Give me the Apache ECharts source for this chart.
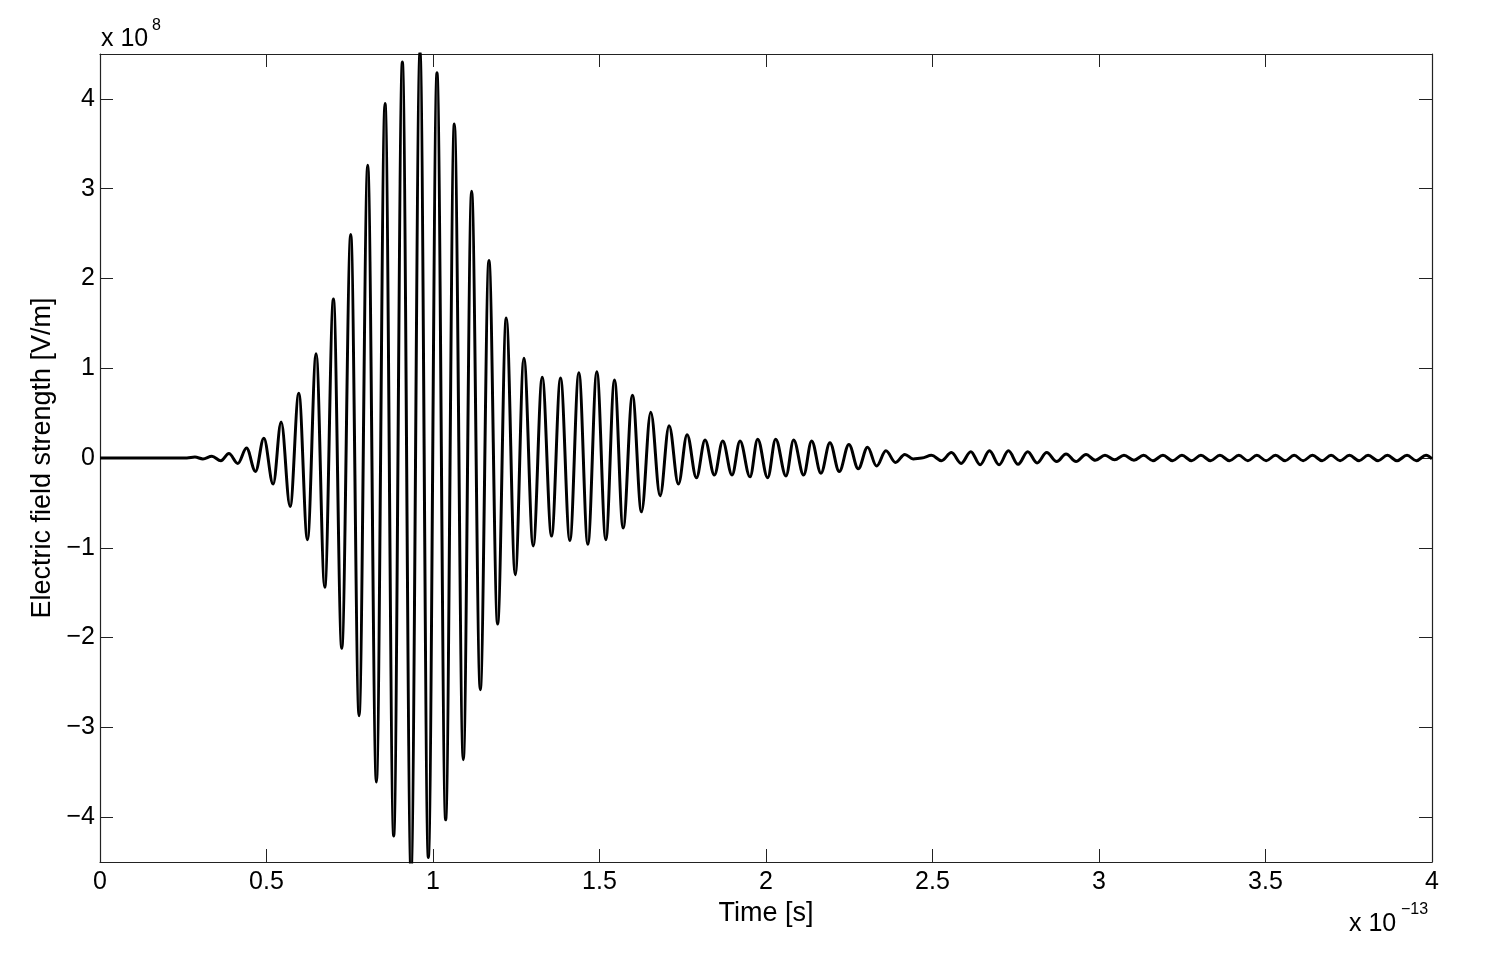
<!DOCTYPE html>
<html>
<head>
<meta charset="utf-8">
<script src="https://cdn.jsdelivr.net/npm/echarts@6/dist/echarts.min.js"></script>
<style>
  html, body { margin: 0; padding: 0; background: #fff; }
  #chart { width: 1491px; height: 963px; }
</style>
</head>
<body>
<div id="chart"></div>
<script>
// time in units of 1e-13 s (turning points of the trace)
const times = [
  0, 0.261, 0.285, 0.309, 0.336, 0.363, 0.387, 0.414, 0.440, 0.467,
  0.492, 0.520, 0.544, 0.571, 0.597, 0.623, 0.649, 0.675, 0.701, 0.726,
  0.753, 0.778, 0.804, 0.830, 0.856, 0.882, 0.908, 0.934, 0.961, 0.986,
  1.012, 1.038, 1.064, 1.091, 1.116, 1.142, 1.168, 1.194, 1.220, 1.247,
  1.273, 1.301, 1.328, 1.356, 1.383, 1.411, 1.438, 1.465, 1.492, 1.519,
  1.545, 1.571, 1.599, 1.626, 1.654, 1.682, 1.709, 1.737, 1.763, 1.791,
  1.817, 1.845, 1.870, 1.898, 1.922, 1.952, 1.975, 2.005, 2.029, 2.060,
  2.083, 2.113, 2.137, 2.165, 2.192, 2.220, 2.249, 2.277, 2.305, 2.332,
  2.360, 2.389, 2.417, 2.442, 2.468, 2.497, 2.527, 2.557, 2.586, 2.615,
  2.643, 2.671, 2.700, 2.728, 2.757, 2.786, 2.814, 2.843, 2.873, 2.901,
  2.931, 2.961, 2.989, 3.018, 3.047, 3.075, 3.105, 3.134, 3.162, 3.192,
  3.221, 3.249, 3.278, 3.306, 3.335, 3.363, 3.392, 3.420, 3.447, 3.474,
  3.502, 3.530, 3.559, 3.586, 3.613, 3.641, 3.670, 3.697, 3.724, 3.752,
  3.781, 3.808, 3.838, 3.866, 3.895, 3.925, 3.953, 3.982, 4.0
];

// electric field in units of 1e8 V/m
const field = [
  0, 0, 0.01, -0.01, 0.02, -0.03, 0.05, -0.06, 0.11, -0.15,
  0.22, -0.29, 0.40, -0.54, 0.72, -0.91, 1.16, -1.44, 1.77, -2.12,
  2.49, -2.87, 3.26, -3.61, 3.95, -4.21, 4.41, -4.62, 4.52, -4.45,
  4.29, -4.03, 3.72, -3.36, 2.97, -2.58, 2.20, -1.85, 1.56, -1.30,
  1.11, -0.98, 0.90, -0.87, 0.89, -0.92, 0.95, -0.96, 0.96, -0.91,
  0.87, -0.78, 0.70, -0.60, 0.51, -0.42, 0.36, -0.29, 0.26, -0.22,
  0.20, -0.19, 0.19, -0.19, 0.19, -0.21, 0.21, -0.22, 0.21, -0.20,
  0.20, -0.19, 0.19, -0.17, 0.17, -0.15, 0.15, -0.12, 0.12, -0.09,
  0.08, -0.05, 0.04, -0.01, 0.0, 0.03, -0.03, 0.06, -0.06, 0.07,
  -0.075, 0.08, -0.075, 0.08, -0.07, 0.07, -0.055, 0.06, -0.04, 0.045,
  -0.04, 0.04, -0.025, 0.03, -0.02, 0.03, -0.025, 0.03, -0.03, 0.03,
  -0.03, 0.03, -0.03, 0.03, -0.03, 0.03, -0.03, 0.03, -0.03, 0.03,
  -0.03, 0.03, -0.03, 0.03, -0.03, 0.03, -0.03, 0.03, -0.03, 0.03,
  -0.03, 0.03, -0.03, 0.03, -0.03, 0.03, -0.03, 0.03, -0.01
];

const yTicks = [-4, -3, -2, -1, 0, 1, 2, 3, 4];

const FONT = '"Liberation Sans", Arial, Helvetica, sans-serif';
const frameColor = '#222';

const chart = echarts.init(document.getElementById('chart'), null, { renderer: 'canvas' });

const tickStyle = { inside: true, length: 13, lineStyle: { color: frameColor, width: 1 } };
const lineStyle = { show: true, onZero: false, lineStyle: { color: frameColor, width: 1.2 } };

const option = {
  animation: false,
  backgroundColor: '#fff',
  grid: { left: 100, right: 59, top: 54, bottom: 101, containLabel: false },
  xAxis: [
    {
      type: 'value', position: 'bottom', min: 0, max: 4, interval: 0.5,
      axisLine: lineStyle, axisTick: tickStyle, splitLine: { show: false },
      axisLabel: { color: '#000', fontSize: 25, fontFamily: FONT, margin: 8 },
      name: 'Time [s]', nameLocation: 'middle', nameGap: 35,
      nameTextStyle: { color: '#000', fontSize: 27, fontFamily: FONT }
    },
    {
      type: 'value', position: 'top', min: 0, max: 4, interval: 0.5,
      axisLine: lineStyle, axisTick: tickStyle, splitLine: { show: false },
      axisLabel: { show: false }
    }
  ],
  yAxis: [
    {
      type: 'value', position: 'left', min: -4.5, max: 4.5,
      axisLine: lineStyle, splitLine: { show: false },
      axisTick: Object.assign({ customValues: yTicks }, tickStyle),
      axisLabel: {
        customValues: yTicks, color: '#000', fontSize: 25, fontFamily: FONT, margin: 5,
        formatter: v => String(v).replace('-', '\u2212')
      },
      name: 'Electric field strength [V/m]', nameLocation: 'middle', nameGap: 42,
      nameTextStyle: { color: '#000', fontSize: 27, fontFamily: FONT }
    },
    {
      type: 'value', position: 'right', min: -4.5, max: 4.5,
      axisLine: lineStyle, splitLine: { show: false },
      axisTick: Object.assign({ customValues: yTicks }, tickStyle),
      axisLabel: { show: false }
    }
  ],
  graphic: [
    { type: 'text', left: 101, top: 27, style: { text: 'x 10', fontSize: 25, fontFamily: FONT, fill: '#000' } },
    { type: 'text', left: 152, top: 18, style: { text: '8', fontSize: 16, fontFamily: FONT, fill: '#000' } },
    { type: 'text', left: 1349, top: 912, style: { text: 'x 10', fontSize: 25, fontFamily: FONT, fill: '#000' } },
    { type: 'text', left: 1401, top: 902, style: { text: '\u221213', fontSize: 16, fontFamily: FONT, fill: '#000' } }
  ],
  series: [
    {
      type: 'line',
      xAxisIndex: 0,
      yAxisIndex: 0,
      data: times.map((t, i) => [t, field[i]]),
      showSymbol: false,
      smooth: 0.36,
      smoothMonotone: 'x',
      clip: true,
      lineStyle: { color: '#000', width: 3 }
    }
  ]
};

chart.setOption(option);
</script>
</body>
</html>
